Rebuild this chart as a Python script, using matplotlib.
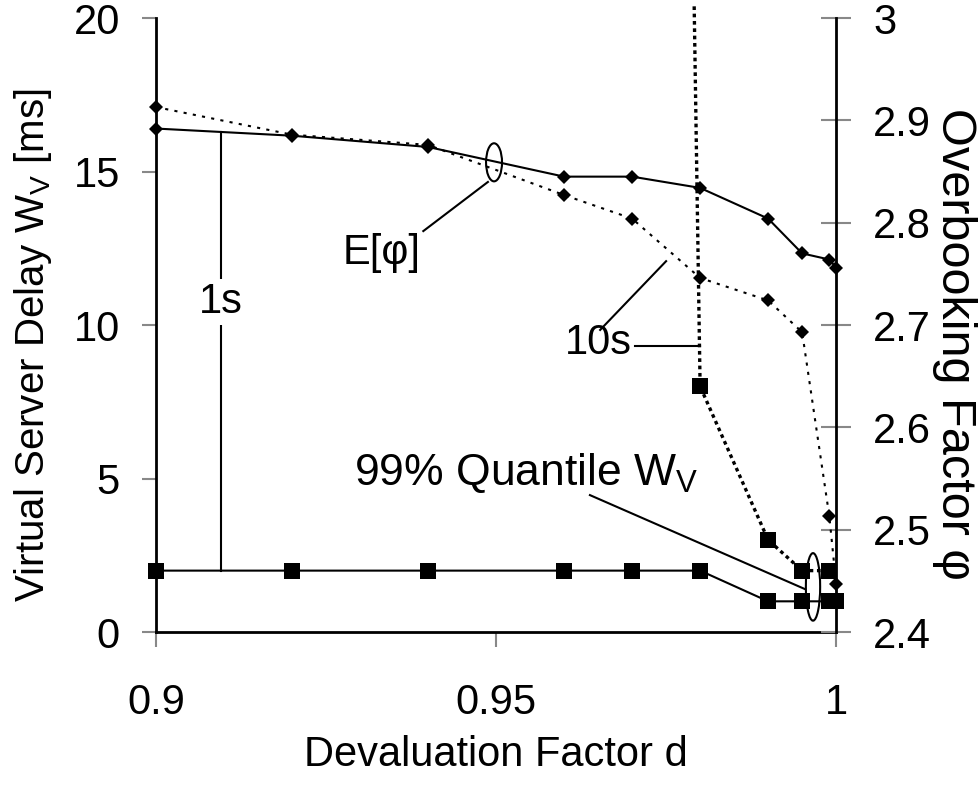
import matplotlib.pyplot as plt
from matplotlib.patches import Ellipse
from matplotlib.transforms import Bbox, TransformedBbox

plt.rcParams['font.family'] = ['Liberation Sans', 'DejaVu Sans']
plt.rcParams['mathtext.fontset'] = 'custom'
plt.rcParams['mathtext.rm'] = 'Liberation Sans'
plt.rcParams['mathtext.it'] = 'Liberation Sans'

# devaluation factor d
d = [0.9, 0.92, 0.94, 0.96, 0.97, 0.98, 0.99, 0.995, 0.999, 1.0]
# 99% quantile of virtual server delay, 1s interval [ms]
w_1s = [2, 2, 2, 2, 2, 2, 1, 1, 1, 1]
# 10s interval (values below d=0.98 are far off the scale)
d_10s = [0.97, 0.98, 0.99, 0.995, 0.999, 1.0]
w_10s = [150, 8, 3, 2, 2, 2]
# expected overbooking factor
phi_1s = [2.892, 2.885, 2.874, 2.845, 2.845, 2.834, 2.804, 2.770, 2.764, 2.756]
phi_10s = [2.913, 2.886, 2.876, 2.827, 2.804, 2.746, 2.724, 2.693, 2.513, 2.447]

fig = plt.figure(figsize=(9.8, 7.94), dpi=100)
ax = fig.add_axes([0.1592, 0.204, 0.694, 0.7733])
ax2 = ax.twinx()

ax.plot(d, w_1s, color='black', lw=1.5, marker='s', ms=11, mew=0, clip_on=False, zorder=3)
line10, = ax.plot(d_10s, w_10s, color='black', lw=2.4, ls=(0, (1.1, 1.1)), marker='s', ms=12,
                  mew=0, zorder=3)
# the off-scale part runs a little above the frame, as in the original
line10.set_clip_box(TransformedBbox(Bbox([[0.9, 0], [1.0, 20.45]]), ax.transData))
ax2.plot(d, phi_1s, color='black', lw=1.5, marker='D', ms=7.5, mew=0, clip_on=False)
ax2.plot(d, phi_10s, color='black', lw=1.5, ls=(0, (1.5, 3)), marker='D', ms=7.5, mew=0,
         clip_on=False)

ax.set_xlim(0.9, 1.0)
ax.set_ylim(0, 20)
ax2.set_ylim(2.4, 3.0)
ax.set_xticks([0.9, 0.95, 1.0])
ax.set_xticklabels(['0.9', '0.95', '1'])
ax.set_yticks([0, 5, 10, 15, 20])
ax2.set_yticks([2.4, 2.5, 2.6, 2.7, 2.8, 2.9, 3.0])
ax2.set_yticklabels(['2.4', '2.5', '2.6', '2.7', '2.8', '2.9', '3'])

for s in ['top', 'right']:
    ax.spines[s].set_visible(False)
for s in ['top', 'left', 'bottom']:
    ax2.spines[s].set_visible(False)
for sp in [ax.spines['left'], ax.spines['bottom'], ax2.spines['right']]:
    sp.set_linewidth(2)

ax.tick_params(axis='y', direction='out', length=10, width=1.5, color='#888888',
               labelsize=30, pad=16)
ax.tick_params(axis='x', direction='out', length=11, width=1.5, color='#888888',
               labelsize=30, pad=26)
ax2.tick_params(axis='y', direction='inout', length=21, width=1.5, color='#888888',
                labelsize=30, pad=16)

ax.set_xlabel('Devaluation Factor d', fontsize=30, labelpad=8)
ax.set_ylabel(r'Virtual Server Delay $\mathrm{W_V}$ [ms]', fontsize=29, labelpad=14)
ax.yaxis.label.set_y(0.467)
ax2.set_ylabel('Overbooking Factor φ', fontsize=35, rotation=-90, labelpad=33)
ax2.yaxis.label.set_y(0.47)

# annotations
ax.plot([0.9095, 0.9095], [2, 16.3], color='black', lw=1.5)
ax.text(0.9095, 10.76, '1s', fontsize=30, ha='center', va='center',
        bbox=dict(facecolor='white', edgecolor='none', pad=2))

ax.plot([0.9393, 0.9488], [13.06, 14.66], color='black', lw=1.5)
ax.add_patch(Ellipse((0.9497, 15.3), 0.00235, 1.24, fill=False, lw=1.5, color='black'))
ax.text(0.9331, 12.35, 'E[φ]', fontsize=30, ha='center', va='center')

ax.plot([0.9704, 0.98], [9.33, 9.33], color='black', lw=1.5)
ax.plot([0.9653, 0.975], [9.84, 12.08], color='black', lw=1.5)
ax.text(0.965, 9.4, '10s', fontsize=30, ha='center', va='center')

ax.plot([0.9638, 0.9954], [4.46, 1.40], color='black', lw=1.5)
ax.add_patch(Ellipse((0.9966, 1.47), 0.0021, 2.2, fill=False, lw=1.5, color='black'))
ax.text(0.9545, 5.18, r'99% Quantile $\mathrm{W_V}$', fontsize=32, ha='center', va='center')

fig.savefig('out.png', dpi=100)
